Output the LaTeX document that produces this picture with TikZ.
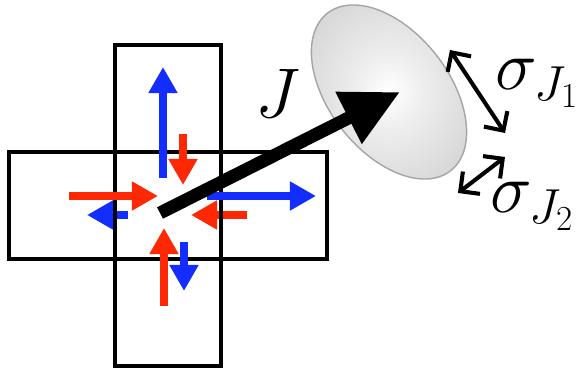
\RequirePackage{fix-cm}
\documentclass[tikz,border=0pt]{standalone}
\usepackage{xcolor}
\usepackage{amsmath}
\usepackage{tikz}
\usetikzlibrary{arrows.meta, positioning, shapes.geometric}
\definecolor{fluxblue}{RGB}{20,45,255}
\definecolor{fluxred}{RGB}{255,40,5}
\definecolor{rimgray}{RGB}{165,165,165}
\pgfdeclareradialshading{spread}{\pgfpoint{0bp}{0bp}}{color(0bp)=(white);
  color(10bp)=(white!93!black); color(50bp)=(white!72!black)}
\tikzset{
  cell/.style={draw, line width=2.8pt, minimum width=2.65cm,
               minimum height=2.675cm, outer sep=0pt, inner sep=0pt},
  flux/.style={line width=5.7pt, draw=#1,
               -{Triangle[length=18.5pt, width=19.5pt]}},
  flux/.default=fluxblue,
  mean/.style={line width=9.2pt, -{Triangle[length=41pt, width=39pt]}},
  spread/.style={line width=2.9pt,
                 {Straight Barb[length=10pt, width=20pt]}-{Straight Barb[length=10pt, width=20pt]}},
  bigmath/.style={font=\fontsize{50}{60}\selectfont, inner sep=0pt},
}

\begin{document}
\begin{tikzpicture}
  \useasboundingbox (0,0) rectangle (14.65,-9.275);

  % Fluxes hidden by the cell walls
  \draw[flux=fluxblue] (3.2,-5.375) -- (2.175,-5.375);
  \draw[flux=fluxred]  (6.175,-5.375) -- (4.775,-5.375);

  % Cells
  \node[cell] (mid) at (4.2,-5.1375) {};
  \node[cell, above=0pt of mid] (up) {};
  \node[cell, below=0pt of mid] (down) {};
  \node[cell, left=0pt of mid] (west) {};
  \node[cell, right=0pt of mid] (east) {};

  % Fluxes
  \draw[flux=fluxblue] (4.075,-4.45) -- (4.075,-1.675);
  \draw[flux=fluxred]  (4.575,-3.35) -- (4.575,-4.625);
  \draw[flux=fluxred]  (1.725,-4.9) -- (3.95,-4.9);
  \draw[flux=fluxblue] (5.175,-4.9) -- (7.9,-4.9);
  \draw[flux=fluxred]  (4.1,-7.65) -- (4.1,-5.7);
  \draw[flux=fluxblue] (4.6,-6.05) -- (4.6,-7.275);

  % Distribution of J
  \node[ellipse, draw=rimgray, line width=1pt, shading=spread,
        minimum width=5cm, minimum height=3cm, rotate=-52] (blob)
    at (9.725,-2.3) {};

  % Mean current
  \coordinate (jtail) at (4.0,-5.325);
  \coordinate (jtip) at (10.0,-2.3);
  \draw[mean] (jtail) -- (jtip);
  \node[bigmath] (jlab) at (6.95,-2.325) {$J$};

  % Spreads
  \coordinate (s1a) at (11.25,-1.25);
  \coordinate (s1b) at (12.625,-3.325);
  \coordinate (s2a) at (11.45,-4.825);
  \coordinate (s2b) at (12.625,-3.925);
  \draw[spread] (s1a) -- (s1b);
  \draw[spread] (s2a) -- (s2b);
  \node[bigmath, anchor=base west] (sig1) at (12.375,-2.25) {$\sigma_{J_1}$};
  \node[bigmath, anchor=base west] (sig2) at (12.25,-5.325) {$\sigma_{J_2}$};

\end{tikzpicture}
\end{document}
